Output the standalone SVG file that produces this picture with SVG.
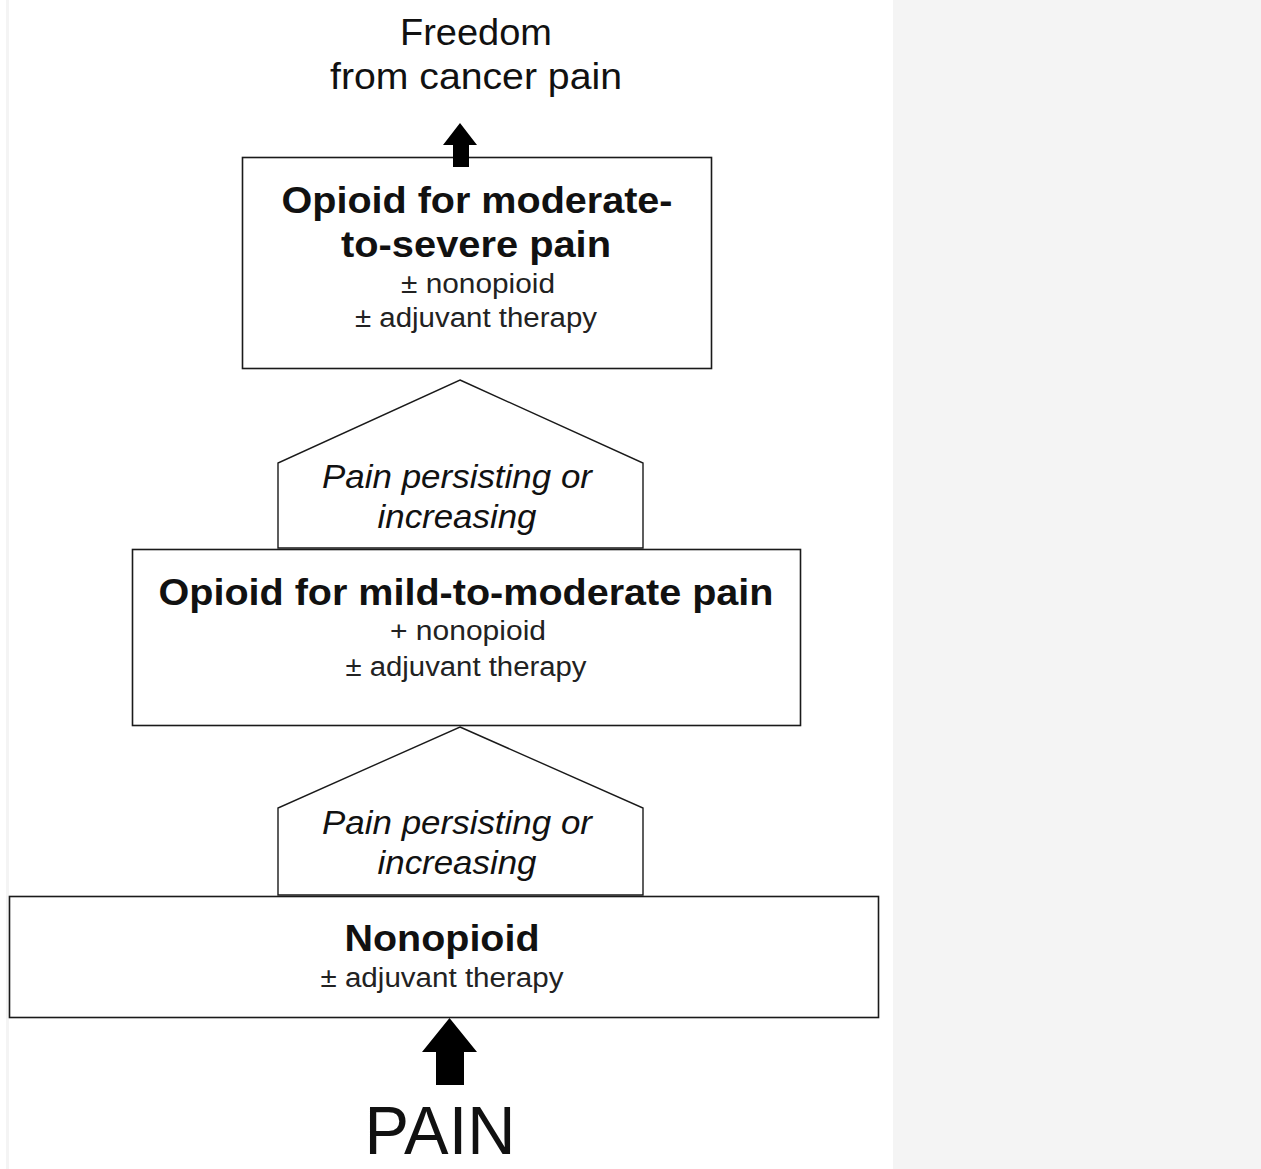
<svg xmlns="http://www.w3.org/2000/svg" width="1261" height="1169" viewBox="0 0 1261 1169">
<style>
.box{fill:#fff;stroke:#1a1a1a;stroke-width:1.6}
.pent{fill:#fff;stroke:#1a1a1a;stroke-width:1.4}
.arrow{fill:#000}
text{font-family:"Liberation Sans",Arial,sans-serif;fill:#111;text-anchor:middle}
.b{font-weight:bold;font-size:36px}
.r{font-size:27px;fill:#222}
.i{font-style:italic;font-size:33px}
.t{font-size:37px}
</style>
<rect x="0" y="0" width="1261" height="1169" fill="#fff"/>
<rect x="893" y="0" width="368" height="1169" fill="#f4f4f4"/>
<rect x="6" y="0" width="3" height="1169" fill="#f4f4f4"/>

<g id="goal">
<text class="t" x="476" y="45" textLength="152" lengthAdjust="spacingAndGlyphs">Freedom</text>
<text class="t" x="476" y="89" textLength="292" lengthAdjust="spacingAndGlyphs">from cancer pain</text>
</g>

<g id="step3">
<rect class="box" x="242.5" y="157.5" width="469" height="211"/>
<text class="b" x="477" y="213" textLength="391" lengthAdjust="spacingAndGlyphs">Opioid for moderate-</text>
<text class="b" x="476" y="257" textLength="270" lengthAdjust="spacingAndGlyphs">to-severe pain</text>
<text class="r" x="478" y="293" textLength="154" lengthAdjust="spacingAndGlyphs">± nonopioid</text>
<text class="r" x="476" y="327" textLength="242" lengthAdjust="spacingAndGlyphs">± adjuvant therapy</text>
</g>

<g id="cond2">
<polygon class="pent" points="460,380 643,463 643,548 278,548 278,463"/>
<text class="i" x="457" y="488" textLength="270" lengthAdjust="spacingAndGlyphs">Pain persisting or</text>
<text class="i" x="457" y="528" textLength="159" lengthAdjust="spacingAndGlyphs">increasing</text>
</g>

<g id="step2">
<rect class="box" x="132.5" y="549.5" width="668" height="176"/>
<text class="b" x="466" y="605" textLength="615" lengthAdjust="spacingAndGlyphs">Opioid for mild-to-moderate pain</text>
<text class="r" x="468" y="640" textLength="156" lengthAdjust="spacingAndGlyphs">+ nonopioid</text>
<text class="r" x="466" y="676" textLength="241" lengthAdjust="spacingAndGlyphs">± adjuvant therapy</text>
</g>

<g id="cond1">
<polygon class="pent" points="460,727 643,808 643,895 278,895 278,808"/>
<text class="i" x="457" y="834" textLength="270" lengthAdjust="spacingAndGlyphs">Pain persisting or</text>
<text class="i" x="457" y="874" textLength="159" lengthAdjust="spacingAndGlyphs">increasing</text>
</g>

<g id="step1">
<rect class="box" x="9.5" y="896.5" width="869" height="121"/>
<text class="b" x="442" y="951" textLength="195" lengthAdjust="spacingAndGlyphs">Nonopioid</text>
<text class="r" x="442" y="987" textLength="243" lengthAdjust="spacingAndGlyphs">± adjuvant therapy</text>
</g>

<g id="start">
<text x="440" y="1154" style="font-size:68px" textLength="151" lengthAdjust="spacingAndGlyphs">PAIN</text>
</g>

<g id="connectors">
<polygon class="arrow" points="460,123 477,145 469,145 469,167 453,167 453,145 443,145"/>
<polygon class="arrow" points="449.5,1018 477,1052 464,1052 464,1085 436,1085 436,1052 422,1052"/>
</g>
</svg>
